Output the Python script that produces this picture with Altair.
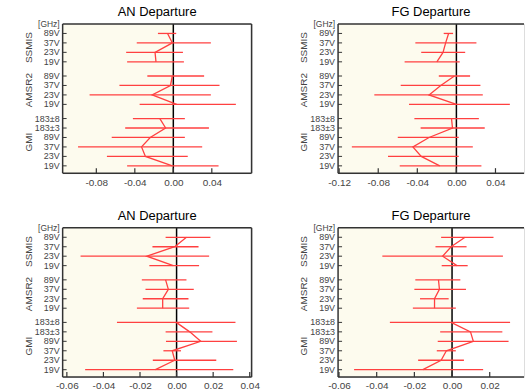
import altair as alt
import pandas as pd

# ---- rows (bottom to top) ----
ROW_POS = [0, 1, 2, 3, 4, 5, 6.5, 7.5, 8.5, 9.5, 11, 12, 13, 14]
ROW_LABELS = ["19V", "23V", "37V", "89V", "183±3", "183±8",
              "19V", "23V", "37V", "89V",
              "19V", "23V", "37V", "89V"]
ROW_GROUP = ["GMI"] * 6 + ["AMSR2"] * 4 + ["SSMIS"] * 4
GROUP_NAMES = ["GMI", "AMSR2", "SSMIS"]
GROUP_CENTER = [2.5, 8.0, 12.5]

# ---- top-left: AN Departure ----
an1_mean = [-0.001, -0.029, -0.033, -0.024, -0.008, -0.014, 0.0035, -0.022, -0.003, -0.001, -0.018, -0.019, -0.001, -0.006]
an1_lo = [-0.048, -0.069, -0.099, -0.064, -0.050, -0.042, -0.035, -0.087, -0.056, -0.027, -0.048, -0.049, -0.038, -0.016]
an1_hi = [0.047, 0.015, 0.030, 0.012, 0.037, 0.012, 0.065, 0.039, 0.048, 0.032, 0.011, 0.010, 0.039, 0.003]
an1_ticks = [-0.08, -0.04, 0.0, 0.04]

# ---- top-right: FG Departure ----
fg1_mean = [-0.017, -0.036, -0.0445, -0.028, -0.004, -0.005, 0.0, -0.028, -0.016, -0.002, -0.020, -0.0137, -0.011, -0.008]
fg1_lo = [-0.058, -0.070, -0.107, -0.060, -0.0366, -0.043, -0.0485, -0.084, -0.057, -0.018, -0.053, -0.036, -0.042, -0.013]
fg1_hi = [0.0256, 0.0024, 0.0168, 0.0024, 0.029, 0.023, 0.0547, 0.027, 0.0246, 0.014, 0.0034, 0.009, 0.0205, -0.0034]
fg1_ticks = [-0.12, -0.08, -0.04, 0.0, 0.04]

# ---- bottom-left: AN Departure ----
an2_mean = [-0.0116, -0.001, -0.0024, 0.0132, 0.0072, -0.0002, -0.0076, -0.0076, -0.0045, -0.006, -0.0018, -0.0163, -0.001, 0.0054]
an2_lo = [-0.050, -0.013, -0.0072, -0.0058, -0.006, -0.0326, -0.0217, -0.0185, -0.017, -0.019, -0.0149, -0.0525, -0.0132, -0.006]
an2_hi = [0.031, 0.0217, 0.0024, 0.033, 0.0196, 0.0322, 0.0069, 0.0065, 0.0094, 0.0054, 0.0123, 0.0178, 0.012, 0.0185]
an2_ticks = [-0.06, -0.04, -0.02, 0.0, 0.02, 0.04]

# ---- bottom-right: FG Departure ----
fg2_mean = [-0.0155, -0.0058, -0.003, 0.0113, 0.0098, -0.0005, -0.0093, -0.0093, -0.0067, -0.0072, 0.0026, -0.005, -0.0005, 0.0069]
fg2_lo = [-0.052, -0.018, -0.0081, -0.0076, -0.0063, -0.033, -0.0208, -0.017, -0.020, -0.0195, -0.0055, -0.037, -0.0088, -0.0058]
fg2_hi = [0.0165, 0.0063, 0.002, 0.030, 0.0267, 0.0308, 0.002, -0.0018, 0.0074, 0.0044, 0.0083, 0.027, 0.0077, 0.022]
fg2_ticks = [-0.06, -0.04, -0.02, 0.0, 0.02]

FONT = "Liberation Sans"
RED = "#ff4040"
CREAM = "#fdfbee"
FRAME = "#333333"
TXT = "#444444"
YDOM = [-0.77, 15.0]
H = 150


def panel(title, mean, lo, hi, xdom, ticks, W, right_border, anchor=False):
    df = pd.DataFrame({"pos": ROW_POS, "label": ROW_LABELS, "grp": ROW_GROUP,
                       "mean": mean, "lo": lo, "hi": hi})
    xs = alt.Scale(domain=xdom, nice=False, zero=False)
    ys = alt.Scale(domain=YDOM, nice=False, zero=False)
    xax = alt.Axis(values=ticks, title=None, ticks=False, domain=False, grid=False,
                   labelExpr="replace(format(datum.value, '.2f'), '\u2212', '-')",
                   labelFont=FONT, labelFontSize=10, labelColor=TXT, labelPadding=4,
                   labelFlush=False)
    one = pd.DataFrame({"a": [xdom[0]], "z": [0.0]})
    tk = pd.DataFrame({"t": ticks})
    grp = pd.DataFrame({"g": GROUP_NAMES, "c": GROUP_CENTER})

    bg = alt.Chart(one).mark_rect(color=CREAM).encode(
        x=alt.X("a:Q", scale=xs, axis=xax), x2="z:Q",
        y=alt.value(0), y2=alt.value(H))
    zero = alt.Chart(one).mark_rule(color="black", strokeWidth=1.5).encode(
        x=alt.X("z:Q", scale=xs, axis=xax), y=alt.value(0), y2=alt.value(H))
    bars = alt.Chart(df).mark_rule(color=RED, strokeWidth=1.3).encode(
        x=alt.X("lo:Q", scale=xs, axis=xax), x2="hi:Q",
        y=alt.Y("pos:Q", scale=ys, axis=None))
    line = alt.Chart(df).mark_line(color=RED, strokeWidth=1.3).encode(
        x=alt.X("mean:Q", scale=xs, axis=xax),
        y=alt.Y("pos:Q", scale=ys, axis=None),
        detail="grp:N", order="pos:Q")
    xt = alt.Chart(tk).mark_rule(color=FRAME, strokeWidth=1.2).encode(
        x=alt.X("t:Q", scale=xs, axis=xax), y=alt.value(H), y2=alt.value(H - 5))
    yt = alt.Chart(df).mark_rule(color=FRAME, strokeWidth=1).encode(
        x=alt.value(0), x2=alt.value(4), y=alt.Y("pos:Q", scale=ys, axis=None))
    ylab = alt.Chart(df).mark_text(align="right", baseline="middle", font=FONT,
                                   fontSize=9, color=TXT).encode(
        x=alt.value(-3), y=alt.Y("pos:Q", scale=ys, axis=None), text="label:N")
    glab = alt.Chart(grp).mark_text(angle=270, align="center", baseline="middle",
                                    font=FONT, fontSize=10, color=TXT).encode(
        x=alt.value(-34), y=alt.Y("c:Q", scale=ys, axis=None), text="g:N")
    ghz = alt.Chart(one).mark_text(align="right", baseline="middle", font=FONT,
                                   fontSize=8.5, color=TXT, text="[GHz]").encode(
        x=alt.value(-3), y=alt.value(0))
    top = alt.Chart(one).mark_rule(color=FRAME, strokeWidth=1.5).encode(
        x=alt.value(0), x2=alt.value(W), y=alt.value(0))
    bot = alt.Chart(one).mark_rule(color=FRAME, strokeWidth=1.5).encode(
        x=alt.value(0), x2=alt.value(W), y=alt.value(H))
    left = alt.Chart(one).mark_rule(color=FRAME, strokeWidth=1.5).encode(
        x=alt.value(0), y=alt.value(0), y2=alt.value(H))
    layers = [bg, zero, xt, yt, ylab, glab, ghz, top, bot, left]
    if right_border:
        layers.append(alt.Chart(one).mark_rule(color=FRAME, strokeWidth=1.5).encode(
            x=alt.value(W), y=alt.value(0), y2=alt.value(H)))
    if anchor:
        layers.append(alt.Chart(one).mark_rule(color="white", strokeWidth=1).encode(
            x=alt.value(-62), x2=alt.value(-60), y=alt.value(H / 2)))
    layers += [bars, line]
    return alt.layer(*layers).properties(
        width=W, height=H,
        title=alt.TitleParams(title, font=FONT, fontSize=13, fontWeight="normal",
                              color="black", offset=1))


p1 = panel("AN Departure", an1_mean, an1_lo, an1_hi, [-0.115, 0.0813], an1_ticks, 190, True, anchor=True)
p2 = panel("FG Departure", fg1_mean, fg1_lo, fg1_hi, [-0.1211, 0.0692], fg1_ticks, 187, False)
p3 = panel("AN Departure", an2_mean, an2_lo, an2_hi, [-0.0623, 0.0410], an2_ticks, 190, True)
p4 = panel("FG Departure", fg2_mean, fg2_lo, fg2_hi, [-0.0605, 0.0382], fg2_ticks, 187, False)

chart = alt.concat(p1, p2, p3, p4, columns=2).properties(
    spacing=alt.RowColnumber(row=55, column=87),
    bounds="flush",
    padding={"left": 0, "top": 4, "right": 0, "bottom": 0},
).configure_view(stroke=None).configure(background="white")

chart.save("out.html", embed_options={"renderer": "svg", "actions": False})
